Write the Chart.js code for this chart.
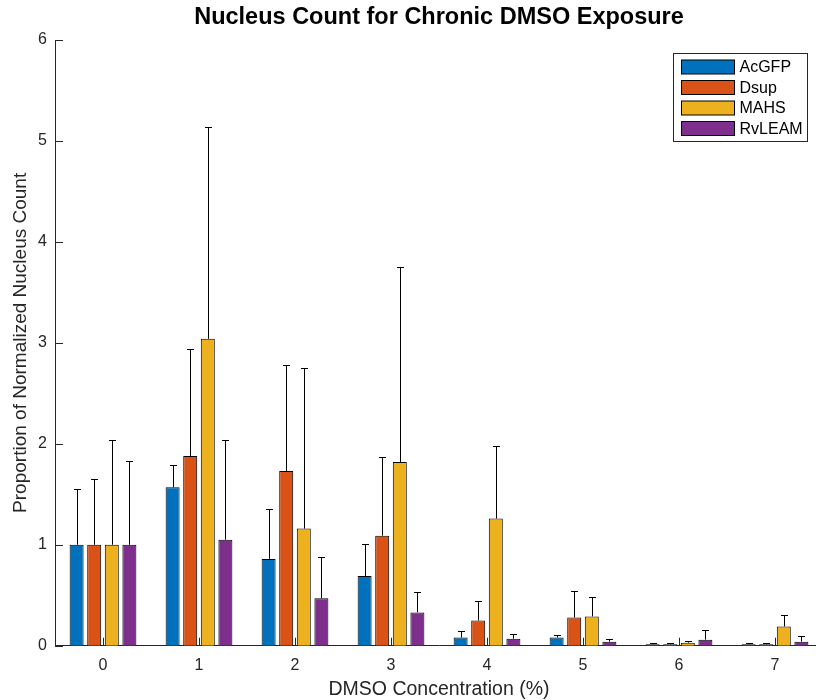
<!DOCTYPE html>
<html>
<head>
<meta charset="utf-8">
<script src="https://cdn.jsdelivr.net/npm/chart.js@4.4.1/dist/chart.umd.min.js"></script>
<style>
  body { margin: 0; background: #fff; }
  #wrap { width: 816px; height: 700px; overflow: hidden; }
  #graph { display: block; }
</style>
</head>
<body>
<div id="wrap"><canvas id="graph" width="823" height="700"></canvas></div>
<script>
// DMSO concentration (%) groups
var concLabels = ['0', '1', '2', '3', '4', '5', '6', '7'];
var yTicks = [0, 1, 2, 3, 4, 5, 6];

// mean proportion of normalized nucleus count
var acgfp  = [1, 1.57, 0.86, 0.69, 0.08, 0.08, 0.015, 0.015];
var dsup   = [1, 1.88, 1.73, 1.09, 0.25, 0.28, 0.015, 0.015];
var mahs   = [1, 3.04, 1.16, 1.82, 1.26, 0.29, 0.03, 0.19];
var rvleam = [1, 1.05, 0.47, 0.33, 0.07, 0.04, 0.06, 0.04];

// upper error (added on top of the mean)
var acgfpErr  = [0.55, 0.22, 0.49, 0.32, 0.07, 0.03, 0.01, 0.01];
var dsupErr   = [0.65, 1.06, 1.05, 0.78, 0.19, 0.26, 0.01, 0.01];
var mahsErr   = [1.04, 2.10, 1.59, 1.93, 0.72, 0.19, 0.015, 0.11];
var rvleamErr = [0.83, 0.99, 0.41, 0.20, 0.05, 0.03, 0.10, 0.055];

var seriesNames = ['AcGFP', 'Dsup', 'MAHS', 'RvLEAM'];
var seriesColors = ['#0072BD', '#D95319', '#EDB120', '#7E2F8E'];
var errArrays = [acgfpErr, dsupErr, mahsErr, rvleamErr];

var font = 'Liberation Sans';
var axisGray = '#262626';

// tick marks inside, error bars and boxed legend
var extras = {
  id: 'extras',
  beforeDatasetsDraw: function (chart) {
    var ctx = chart.ctx;
    var xs = chart.scales.x, ys = chart.scales.y;
    ctx.save();
    ctx.strokeStyle = axisGray;
    ctx.lineWidth = 1;
    ctx.beginPath();
    xs.ticks.forEach(function (t, i) {
      var px = Math.round(xs.getPixelForTick(i)) + 0.5;
      ctx.moveTo(px, ys.bottom);
      ctx.lineTo(px, ys.bottom - 8);
    });
    ys.ticks.forEach(function (t, i) {
      var py = Math.round(ys.getPixelForTick(i)) + 0.5;
      ctx.moveTo(xs.left, py);
      ctx.lineTo(xs.left + 8, py);
    });
    ctx.stroke();
    ctx.restore();
  },
  afterDatasetsDraw: function (chart) {
    var ctx = chart.ctx;
    var ys = chart.scales.y;
    ctx.save();
    ctx.strokeStyle = '#000';
    ctx.lineWidth = 1;
    chart.data.datasets.forEach(function (ds, d) {
      var meta = chart.getDatasetMeta(d);
      meta.data.forEach(function (bar, i) {
        var top = ys.getPixelForValue(ds.data[i] + errArrays[d][i]);
        var x = Math.round(bar.x) + 0.5;
        top = Math.round(top) + 0.5;
        ctx.beginPath();
        ctx.moveTo(x, bar.y);
        ctx.lineTo(x, top);
        ctx.moveTo(x - 3.5, top);
        ctx.lineTo(x + 3.5, top);
        ctx.stroke();
      });
    });

    // legend box
    var area = chart.chartArea;
    var bx = area.right - 149.5, by = area.top + 13.5, bw = 134, bh = 88;
    ctx.fillStyle = '#fff';
    ctx.fillRect(bx, by, bw, bh);
    ctx.strokeStyle = axisGray;
    ctx.strokeRect(bx, by, bw, bh);
    ctx.font = '16px "' + font + '"';
    ctx.textBaseline = 'middle';
    chart.data.datasets.forEach(function (ds, d) {
      var cy = by + 13.5 + d * 20.5;
      ctx.fillStyle = ds.backgroundColor;
      ctx.fillRect(bx + 8, cy - 7, 53, 14);
      ctx.strokeStyle = '#000';
      ctx.strokeRect(bx + 8, cy - 7, 53, 14);
      ctx.fillStyle = '#000';
      ctx.fillText(ds.label, bx + 66, cy + 1);
    });
    ctx.restore();
  }
};

var canvas = document.getElementById('graph');
var ctx = canvas.getContext('2d');

var chart = new Chart(ctx, {
  type: 'bar',
  data: {
    labels: concLabels,
    datasets: [acgfp, dsup, mahs, rvleam].map(function (vals, d) {
      return {
        label: seriesNames[d],
        data: vals,
        backgroundColor: seriesColors[d],
        borderColor: '#000',
        borderWidth: 1,
        categoryPercentage: 0.733,
        barPercentage: 0.795
      };
    })
  },
  options: {
    responsive: false,
    animation: false,
    layout: { padding: 0 },
    plugins: {
      legend: { display: false },
      tooltip: { enabled: false },
      title: {
        display: true,
        fullSize: false,
        text: 'Nucleus Count for Chronic DMSO Exposure',
        color: '#000',
        font: { family: font, size: 23.5, weight: 'bold', lineHeight: 1.2 },
        padding: { top: 3, bottom: 8.8 }
      }
    },
    scales: {
      x: {
        offset: true,
        grid: { display: false, drawTicks: false },
        border: { display: true, color: axisGray, width: 1 },
        ticks: { color: axisGray, padding: 10.5, font: { family: font, size: 16 } },
        title: {
          display: true,
          text: 'DMSO Concentration (%)',
          color: axisGray,
          font: { family: font, size: 19.5, lineHeight: 1.05 },
          padding: { top: 0, bottom: 0 }
        },
        afterFit: function (scale) { scale.height = 54.3; }
      },
      y: {
        min: 0,
        max: 6,
        grid: { display: false, drawTicks: false },
        border: { display: true, color: axisGray, width: 1 },
        afterBuildTicks: function (scale) {
          scale.ticks = yTicks.map(function (v) { return { value: v }; });
        },
        ticks: { color: axisGray, padding: 8, font: { family: font, size: 16 } },
        title: {
          display: true,
          text: 'Proportion of Normalized Nucleus Count',
          color: axisGray,
          font: { family: font, size: 19, lineHeight: 1.2 },
          padding: { top: 9, bottom: 0 }
        },
        afterFit: function (scale) { scale.width = 55; }
      }
    }
  },
  plugins: [extras]
});
</script>
</body>
</html>
